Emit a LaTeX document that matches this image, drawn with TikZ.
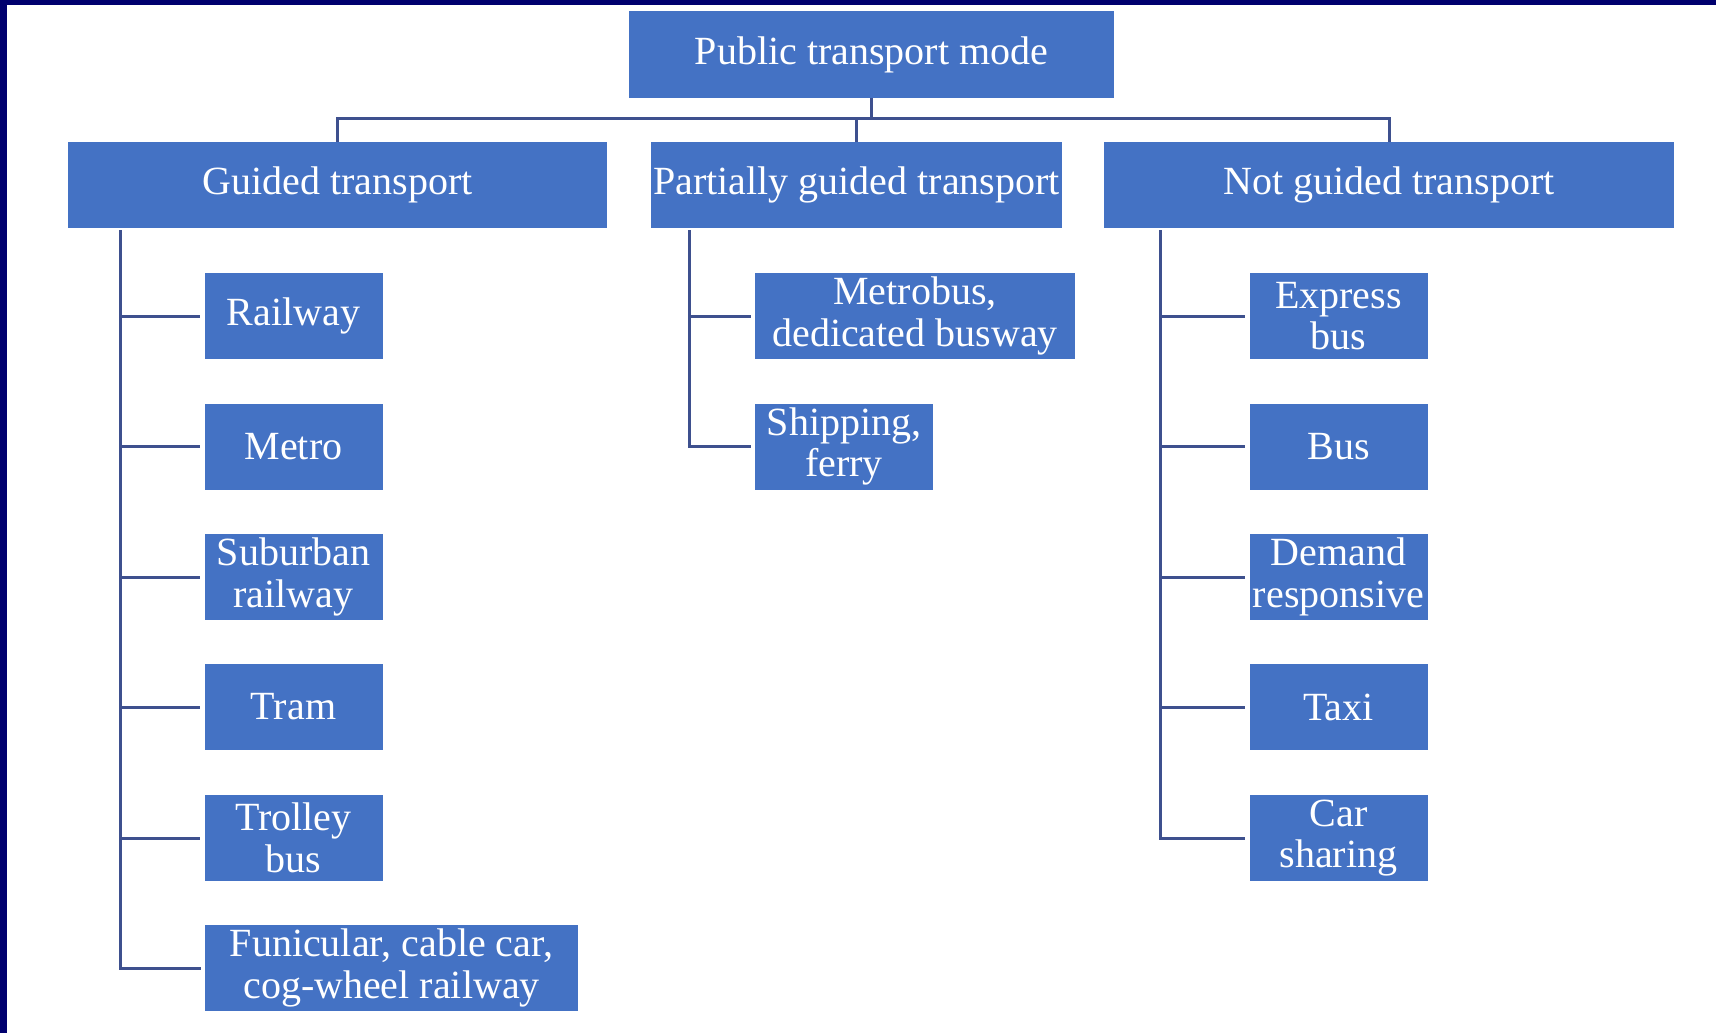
\documentclass[tikz,border=0pt]{standalone}
\usepackage{fontspec}
\setmainfont{Liberation Serif}
\usepackage{tikz}
\usepackage{xcolor}

\definecolor{boxblue}{RGB}{68,114,196}
\definecolor{linkblue}{RGB}{62,80,142}
\definecolor{frameblue}{RGB}{0,0,110}

\tikzset{
  modebox/.style={rectangle, fill=boxblue, text=white, inner sep=0pt, align=center,
    font=\fontsize{20}{20.8}\selectfont},
  catbox/.style={modebox, minimum height=43pt},
  itembox/.style={modebox, minimum width=89pt, minimum height=43pt},
  link/.style={draw=linkblue, line width=1.5pt}
}

\begin{document}
\begin{tikzpicture}[x=0.5pt, y=-0.5pt]
    \useasboundingbox (0,0) rectangle (1716,1033);
    \fill[white] (0,0) rectangle (1716,1033);
    \fill[frameblue] (0,0) rectangle (1716,5);
    \fill[frameblue] (0,0) rectangle (7,1033);

    \node[modebox, minimum width=242.5pt, minimum height=43.5pt] (mode) at (871.5,54.5) {Public transport mode};
    \node[catbox, minimum width=269.5pt] (guided) at (337.5,185) {Guided transport};
    \node[catbox, minimum width=205.5pt] (partial) at (856.5,185) {Partially guided transport};
    \node[catbox, minimum width=285pt] (notguided) at (1389,185) {Not guided transport};

    \node[itembox] (railway) at (293.5,316) {Railway};
    \node[itembox] (metro) at (293.5,446.5) {Metro};
    \node[itembox] (suburban) at (293.5,577) {Suburban\\railway};
    \node[itembox] (tram) at (293.5,707) {Tram};
    \node[itembox] (trolley) at (293.5,838) {Trolley\\bus};
    \node[itembox, minimum width=186.5pt] (funicular) at (391.5,968) {Funicular, cable car,\\cog-wheel railway};

    \node[itembox, minimum width=160pt] (metrobus) at (915,316) {Metrobus,\\dedicated busway};
    \node[itembox] (shipping) at (844,446.5) {Shipping,\\ferry};

    \node[itembox] (express) at (1338.5,316) {Express\\bus};
    \node[itembox] (bus) at (1338.5,446.5) {Bus};
    \node[itembox] (demand) at (1338.5,577) {Demand\\responsive};
    \node[itembox] (taxi) at (1338.5,707) {Taxi};
    \node[itembox] (carsharing) at (1338.5,838) {Car\\sharing};

    \draw[link] (mode.south) -- ++(0,20) -| (guided.north);
    \draw[link] (mode.south) -- ++(0,20) -| (partial.north);
    \draw[link] (mode.south) -- ++(0,20) -| (notguided.north);

    \coordinate (gtrunk) at (120,230);
    \coordinate (ptrunk) at (689,230);
    \coordinate (ntrunk) at (1160,230);

    \foreach \c in {railway,metro,suburban,tram,trolley,funicular}
        \draw[link] (gtrunk) |- ([xshift=-2pt]\c.west);
    \foreach \c in {metrobus,shipping}
        \draw[link] (ptrunk) |- ([xshift=-2pt]\c.west);
    \foreach \c in {express,bus,demand,taxi,carsharing}
        \draw[link] (ntrunk) |- ([xshift=-2pt]\c.west);
\end{tikzpicture}
\end{document}
